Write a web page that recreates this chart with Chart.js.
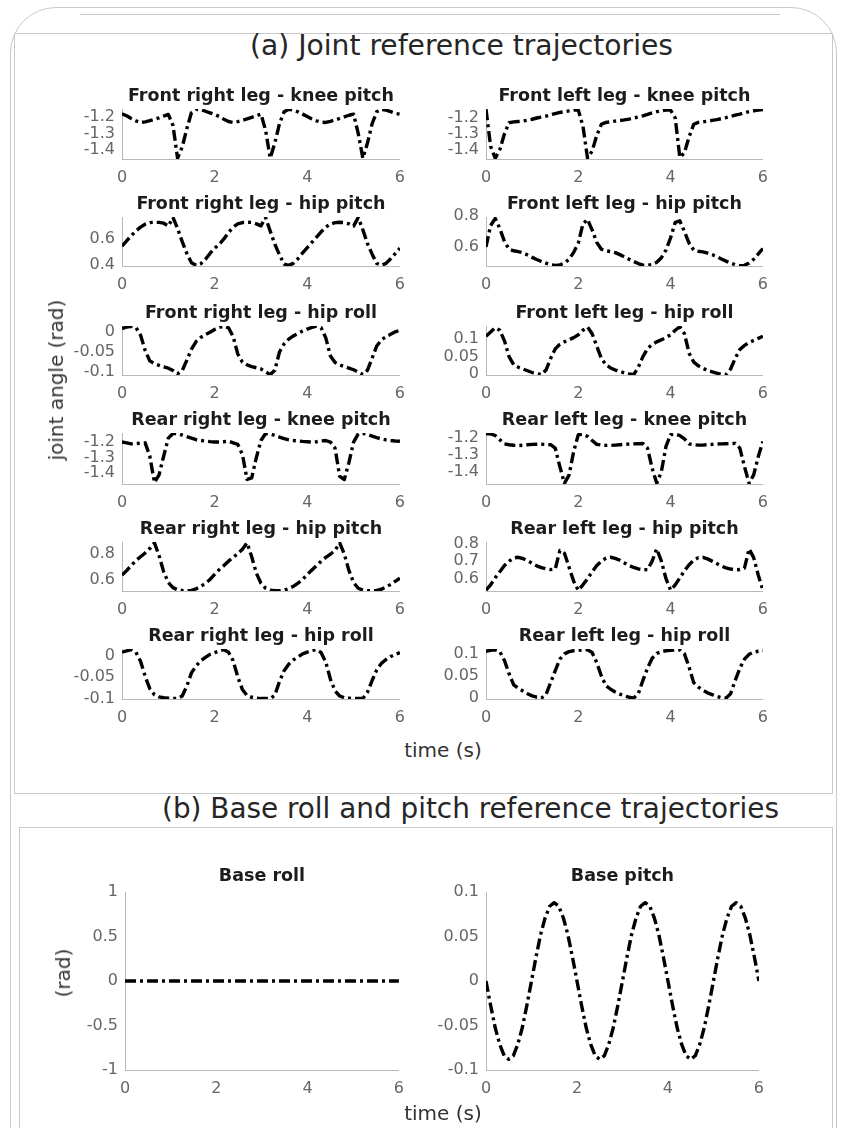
<!DOCTYPE html>
<html>
<head>
<meta charset="utf-8">
<title>Joint and base reference trajectories</title>
<script src="https://cdn.jsdelivr.net/npm/chart.js@4.4.0/dist/chart.umd.min.js"></script>
<style>
    html, body { margin: 0; padding: 0; background: #fff; }
    body { width: 844px; height: 1128px; position: relative; overflow: hidden; font-family: 'DejaVu Sans', sans-serif; }
    .box { position: absolute; border: 1px solid #c9c9c9; box-sizing: border-box; }
    .plot { position: absolute; }
    .lbl { position: absolute; white-space: nowrap; color: #333; font-size: 20px; transform: translate(-50%, -50%); z-index: 2; }
    .rot { transform: translate(-50%, -50%) rotate(-90deg); }
    .head { position: absolute; white-space: nowrap; color: #262626; font-family: 'Liberation Sans Narrow', 'DejaVu Sans Condensed', sans-serif; font-size: 28px; transform-origin: 0 50%; }
</style>
</head>
<body>

<!-- frames around the two panels -->
<div class="box" style="left:10px; top:7px; width:827px; height:1180px; border-radius:46px;"></div>
<div class="box" style="left:80px; top:14px; width:700px; height:1px; border-width:1px 0 0 0;"></div>
<div class="box" style="left:14px; top:33px; width:819px; height:761px;"></div>
<div class="box" style="left:19px; top:827px; width:814px; height:400px;"></div>

<div class="head" data-cx="461" data-cy="45" data-w="423">(a) Joint reference trajectories</div>
<div class="head" data-cx="470" data-cy="808" data-w="617">(b) Base roll and pitch reference trajectories</div>

<div class="lbl rot" style="left:56px; top:380px;">joint angle (rad)</div>
<div class="lbl" style="left:443px; top:750px;">time (s)</div>
<div class="lbl rot" style="left:63px; top:973px;">(rad)</div>
<div class="lbl" style="left:443px; top:1113px;">time (s)</div>

<script>
// ============================================
// 資料：時間軸 (s) 與各關節軌跡 (rad)
// ============================================
const time = [
    0, 0.1, 0.2, 0.3, 0.4, 0.5, 0.6, 0.7, 0.8, 0.9,
    1, 1.1, 1.2, 1.3, 1.4, 1.5, 1.6, 1.7, 1.8, 1.9,
    2, 2.1, 2.2, 2.3, 2.4, 2.5, 2.6, 2.7, 2.8, 2.9,
    3, 3.1, 3.2, 3.3, 3.4, 3.5, 3.6, 3.7, 3.8, 3.9,
    4, 4.1, 4.2, 4.3, 4.4, 4.5, 4.6, 4.7, 4.8, 4.9,
    5, 5.1, 5.2, 5.3, 5.4, 5.5, 5.6, 5.7, 5.8, 5.9,
    6
];
const timeTicks = [0, 2, 4, 6];

const frKneePitch = [
    -1.178, -1.19, -1.207, -1.222, -1.232, -1.228, -1.221, -1.212, -1.203, -1.192,
    -1.182, -1.25, -1.455, -1.385, -1.27, -1.17, -1.15, -1.153, -1.162, -1.172,
    -1.182, -1.195, -1.212, -1.226, -1.232, -1.227, -1.219, -1.21, -1.2, -1.19,
    -1.18, -1.28, -1.455, -1.36, -1.24, -1.165, -1.15, -1.155, -1.166, -1.18,
    -1.195, -1.21, -1.222, -1.23, -1.232, -1.225, -1.216, -1.207, -1.197, -1.187,
    -1.18, -1.3, -1.455, -1.36, -1.24, -1.165, -1.15, -1.155, -1.165, -1.175,
    -1.18
];
const flKneePitch = [
    -1.145, -1.38, -1.455, -1.4, -1.3, -1.23, -1.225, -1.222, -1.219, -1.214,
    -1.208, -1.2, -1.194, -1.188, -1.18, -1.172, -1.165, -1.16, -1.155, -1.15,
    -1.15, -1.25, -1.455, -1.41, -1.31, -1.24, -1.228, -1.224, -1.22, -1.216,
    -1.212, -1.207, -1.2, -1.194, -1.186, -1.177, -1.168, -1.16, -1.155, -1.15,
    -1.15, -1.2, -1.45, -1.42, -1.32, -1.24, -1.228, -1.225, -1.22, -1.215,
    -1.21, -1.204, -1.198, -1.19, -1.182, -1.175, -1.167, -1.16, -1.155, -1.15,
    -1.147
];
const frHipPitch = [
    0.545, 0.585, 0.625, 0.66, 0.69, 0.712, 0.724, 0.727, 0.726, 0.72,
    0.698, 0.765, 0.68, 0.58, 0.49, 0.42, 0.4, 0.412, 0.445, 0.49,
    0.53, 0.56, 0.6, 0.65, 0.69, 0.715, 0.725, 0.727, 0.726, 0.715,
    0.7, 0.763, 0.66, 0.56, 0.48, 0.41, 0.4, 0.415, 0.45, 0.495,
    0.535, 0.575, 0.615, 0.655, 0.69, 0.713, 0.724, 0.727, 0.725, 0.715,
    0.698, 0.764, 0.67, 0.565, 0.485, 0.415, 0.4, 0.415, 0.45, 0.49,
    0.53
];
const flHipPitch = [
    0.6, 0.74, 0.785, 0.72, 0.635, 0.585, 0.575, 0.57, 0.562, 0.548,
    0.532, 0.518, 0.505, 0.494, 0.484, 0.48, 0.483, 0.495, 0.52, 0.565,
    0.625, 0.75, 0.78, 0.71, 0.63, 0.585, 0.575, 0.57, 0.563, 0.55,
    0.535, 0.52, 0.505, 0.492, 0.482, 0.48, 0.485, 0.5, 0.53, 0.58,
    0.66, 0.76, 0.77, 0.7, 0.625, 0.58, 0.572, 0.568, 0.56, 0.55,
    0.538, 0.522, 0.508, 0.495, 0.485, 0.478, 0.48, 0.495, 0.52, 0.555,
    0.59
];
const frHipRoll = [
    0.008, 0.012, 0.014, 0.011, -0.008, -0.046, -0.072, -0.079, -0.083, -0.087,
    -0.09, -0.096, -0.104, -0.096, -0.07, -0.043, -0.024, -0.014, -0.007, -0.001,
    0.006, 0.011, 0.014, 0.01, -0.012, -0.055, -0.075, -0.082, -0.086, -0.089,
    -0.092, -0.099, -0.106, -0.095, -0.05, -0.03, -0.018, -0.01, -0.004, 0.002,
    0.007, 0.011, 0.014, 0.01, -0.015, -0.06, -0.076, -0.082, -0.086, -0.09,
    -0.094, -0.1, -0.106, -0.095, -0.065, -0.035, -0.02, -0.012, -0.006, 0,
    0.004
];
const flHipRoll = [
    0.108, 0.12, 0.132, 0.125, 0.095, 0.05, 0.027, 0.02, 0.015, 0.01,
    0.005, 0.002, -0.001, 0.012, 0.045, 0.072, 0.085, 0.092, 0.098, 0.104,
    0.112, 0.125, 0.134, 0.115, 0.08, 0.045, 0.027, 0.018, 0.012, 0.008,
    0.004, 0.001, -0.001, 0.02, 0.05, 0.073, 0.085, 0.092, 0.098, 0.104,
    0.112, 0.125, 0.135, 0.115, 0.06, 0.035, 0.024, 0.017, 0.011, 0.007,
    0.003, 0, -0.001, 0.015, 0.045, 0.07, 0.082, 0.09, 0.096, 0.102,
    0.108
];
const rrKneePitch = [
    -1.2, -1.205, -1.212, -1.21, -1.207, -1.205, -1.29, -1.46, -1.41, -1.29,
    -1.175, -1.145, -1.146, -1.155, -1.165, -1.175, -1.185, -1.19, -1.193, -1.197,
    -1.2, -1.2, -1.198, -1.195, -1.205, -1.215, -1.28, -1.44, -1.43, -1.3,
    -1.19, -1.145, -1.148, -1.158, -1.168, -1.178, -1.186, -1.19, -1.193, -1.196,
    -1.198, -1.2, -1.198, -1.193, -1.19, -1.2, -1.24, -1.42, -1.44, -1.33,
    -1.2, -1.148, -1.145, -1.152, -1.162, -1.172, -1.18, -1.186, -1.19, -1.193,
    -1.195
];
const rlKneePitch = [
    -1.175, -1.175, -1.185, -1.21, -1.235, -1.24, -1.243, -1.245, -1.243, -1.24,
    -1.238, -1.237, -1.237, -1.238, -1.24, -1.26, -1.37, -1.47, -1.42, -1.28,
    -1.18, -1.177, -1.19, -1.215, -1.238, -1.242, -1.244, -1.244, -1.242, -1.24,
    -1.238, -1.236, -1.235, -1.234, -1.233, -1.26, -1.38, -1.47, -1.4, -1.25,
    -1.18, -1.176, -1.185, -1.205, -1.235, -1.24, -1.242, -1.242, -1.24, -1.238,
    -1.236, -1.235, -1.234, -1.233, -1.232, -1.26, -1.37, -1.47, -1.42, -1.31,
    -1.22
];
const rrHipPitch = [
    0.634, 0.67, 0.71, 0.75, 0.78, 0.81, 0.845, 0.89, 0.79, 0.66,
    0.575, 0.535, 0.518, 0.512, 0.51, 0.513, 0.525, 0.545, 0.568, 0.6,
    0.64, 0.678, 0.71, 0.745, 0.775, 0.805, 0.84, 0.89, 0.78, 0.65,
    0.57, 0.53, 0.515, 0.51, 0.51, 0.515, 0.527, 0.545, 0.57, 0.6,
    0.638, 0.675, 0.71, 0.745, 0.775, 0.8, 0.83, 0.89, 0.8, 0.67,
    0.575, 0.53, 0.515, 0.51, 0.51, 0.513, 0.522, 0.54, 0.56, 0.585,
    0.61
];
const rlHipPitch = [
    0.535, 0.565, 0.605, 0.64, 0.675, 0.7, 0.718, 0.722, 0.715, 0.703,
    0.688, 0.673, 0.663, 0.656, 0.652, 0.655, 0.76, 0.745, 0.665, 0.585,
    0.533, 0.565, 0.6, 0.64, 0.675, 0.7, 0.717, 0.722, 0.716, 0.705,
    0.69, 0.675, 0.664, 0.656, 0.651, 0.652, 0.7, 0.77, 0.7, 0.6,
    0.535, 0.565, 0.605, 0.645, 0.68, 0.705, 0.72, 0.722, 0.713, 0.7,
    0.686, 0.672, 0.662, 0.655, 0.651, 0.652, 0.66, 0.77, 0.72, 0.62,
    0.535
];
const rrHipRoll = [
    0.008, 0.011, 0.014, 0.008, -0.013, -0.048, -0.077, -0.091, -0.096, -0.098,
    -0.099, -0.1, -0.1, -0.094, -0.071, -0.04, -0.024, -0.012, -0.004, 0.003,
    0.007, 0.011, 0.014, 0.008, -0.012, -0.05, -0.079, -0.093, -0.097, -0.099,
    -0.1, -0.1, -0.1, -0.092, -0.06, -0.035, -0.02, -0.01, -0.003, 0.004,
    0.008, 0.012, 0.014, 0.007, -0.015, -0.055, -0.082, -0.094, -0.098, -0.099,
    -0.1, -0.1, -0.1, -0.085, -0.058, -0.033, -0.018, -0.009, -0.002, 0.003,
    0.007
];
const rlHipRoll = [
    0.106, 0.108, 0.109, 0.105, 0.085, 0.055, 0.03, 0.022, 0.016, 0.01,
    0.005, 0.002, 0, 0.008, 0.035, 0.062, 0.088, 0.1, 0.105, 0.107,
    0.108, 0.109, 0.109, 0.103, 0.08, 0.05, 0.028, 0.02, 0.014, 0.009,
    0.005, 0.002, 0, 0.01, 0.04, 0.068, 0.09, 0.101, 0.105, 0.107,
    0.108, 0.109, 0.109, 0.1, 0.07, 0.035, 0.025, 0.018, 0.012, 0.008,
    0.004, 0.001, 0, 0.01, 0.04, 0.067, 0.088, 0.099, 0.104, 0.106,
    0.107
];
const baseRoll = [
    0, 0, 0, 0, 0, 0, 0, 0, 0, 0,
    0, 0, 0, 0, 0, 0, 0, 0, 0, 0,
    0, 0, 0, 0, 0, 0, 0, 0, 0, 0,
    0, 0, 0, 0, 0, 0, 0, 0, 0, 0,
    0, 0, 0, 0, 0, 0, 0, 0, 0, 0,
    0, 0, 0, 0, 0, 0, 0, 0, 0, 0,
    0
];
const basePitch = [
    0, -0.027, -0.052, -0.071, -0.084, -0.088, -0.084, -0.071, -0.052, -0.027,
    0, 0.027, 0.052, 0.071, 0.084, 0.088, 0.084, 0.071, 0.052, 0.027,
    0, -0.027, -0.052, -0.071, -0.084, -0.088, -0.084, -0.071, -0.052, -0.027,
    0, 0.027, 0.052, 0.071, 0.084, 0.088, 0.084, 0.071, 0.052, 0.027,
    0, -0.027, -0.052, -0.071, -0.084, -0.088, -0.084, -0.071, -0.052, -0.027,
    0, 0.027, 0.052, 0.071, 0.084, 0.088, 0.084, 0.071, 0.052, 0.027,
    0
];

// 各子圖 y 軸刻度
const kneeTicks = [-1.4, -1.3, -1.2];
const frHipPitchTicks = [0.4, 0.6];
const flHipPitchTicks = [0.6, 0.8];
const rrHipPitchTicks = [0.6, 0.8];
const rlHipPitchTicks = [0.6, 0.7, 0.8];
const rightRollTicks = [-0.1, -0.05, 0];
const leftRollTicks = [0, 0.05, 0.1];
const baseRollTicks = [-1, -0.5, 0, 0.5, 1];
const basePitchTicks = [-0.1, -0.05, 0, 0.05, 0.1];

// ============================================
// 版面：每個子圖的繪圖區位置
// ============================================
const LEFT_COL = { left: 122, w: 278 };
const RIGHT_COL = { left: 486, w: 277 };
const ROWS = [[109, 50], [217, 49], [326, 49], [433, 51], [542, 49], [649, 50]];

const panels = [
    { title: 'Front right leg - knee pitch', values: frKneePitch, ticks: kneeTicks, min: -1.46, max: -1.148, col: LEFT_COL, row: 0 },
    { title: 'Front left leg - knee pitch', values: flKneePitch, ticks: kneeTicks, min: -1.46, max: -1.143, col: RIGHT_COL, row: 0 },
    { title: 'Front right leg - hip pitch', values: frHipPitch, ticks: frHipPitchTicks, min: 0.395, max: 0.767, col: LEFT_COL, row: 1 },
    { title: 'Front left leg - hip pitch', values: flHipPitch, ticks: flHipPitchTicks, min: 0.476, max: 0.795, col: RIGHT_COL, row: 1 },
    { title: 'Front right leg - hip roll', values: frHipRoll, ticks: rightRollTicks, min: -0.107, max: 0.0145, col: LEFT_COL, row: 2 },
    { title: 'Front left leg - hip roll', values: flHipRoll, ticks: leftRollTicks, min: -0.002, max: 0.137, col: RIGHT_COL, row: 2 },
    { title: 'Rear right leg - knee pitch', values: rrKneePitch, ticks: kneeTicks, min: -1.469, max: -1.142, col: LEFT_COL, row: 3 },
    { title: 'Rear left leg - knee pitch', values: rlKneePitch, ticks: kneeTicks, min: -1.474, max: -1.17, col: RIGHT_COL, row: 3 },
    { title: 'Rear right leg - hip pitch', values: rrHipPitch, ticks: rrHipPitchTicks, min: 0.508, max: 0.897, col: LEFT_COL, row: 4 },
    { title: 'Rear left leg - hip pitch', values: rlHipPitch, ticks: rlHipPitchTicks, min: 0.53, max: 0.809, col: RIGHT_COL, row: 4 },
    { title: 'Rear right leg - hip roll', values: rrHipRoll, ticks: rightRollTicks, min: -0.101, max: 0.0155, col: LEFT_COL, row: 5 },
    { title: 'Rear left leg - hip roll', values: rlHipRoll, ticks: leftRollTicks, min: -0.002, max: 0.111, col: RIGHT_COL, row: 5 }
];

const Y_AXIS_W = 64;   // y 軸刻度區寬度
const PAD_TOP = 30;    // 子圖標題空間
const PAD_RIGHT = 14;
const X_AXIS_H = 32;

// 子圖標題（置中於繪圖區上方）
const subTitlePlugin = {
    id: 'subTitle',
    afterDraw(chart, args, opts) {
        const { ctx, chartArea } = chart;
        ctx.save();
        ctx.font = 'bold 17.5px "DejaVu Sans", sans-serif';
        ctx.fillStyle = '#1c1c1c';
        ctx.textAlign = 'center';
        ctx.textBaseline = 'middle';
        ctx.fillText(opts.text, (chartArea.left + chartArea.right) / 2, chartArea.top - opts.gap);
        ctx.restore();
    }
};

function fmt(v) {
    return String(Math.round(v * 1000) / 1000);
}

function makePlot(p) {
    const wrap = document.createElement('div');
    wrap.className = 'plot';
    wrap.style.left = (p.left - Y_AXIS_W) + 'px';
    wrap.style.top = (p.top - PAD_TOP) + 'px';
    const canvas = document.createElement('canvas');
    canvas.width = Y_AXIS_W + p.w + PAD_RIGHT;
    canvas.height = PAD_TOP + p.h + X_AXIS_H;
    wrap.appendChild(canvas);
    document.body.appendChild(wrap);

    const tickFont = { family: "'DejaVu Sans', sans-serif", size: 16 };

    return new Chart(canvas, {
        type: 'line',
        data: {
            datasets: [{
                data: time.map((t, i) => ({ x: t, y: p.values[i] })),
                borderColor: '#000',
                borderWidth: 3.4,
                borderDash: [11, 4, 3, 4],   // 點劃線
                borderCapStyle: 'butt',
                borderJoinStyle: 'round',
                pointRadius: 0,
                tension: 0,
                fill: false
            }]
        },
        options: {
            responsive: false,
            animation: false,
            devicePixelRatio: 1,
            layout: { padding: { top: PAD_TOP, right: PAD_RIGHT, left: 0, bottom: 0 } },
            plugins: {
                legend: { display: false },
                tooltip: { enabled: false },
                subTitle: { text: p.title, gap: p.gap }
            },
            scales: {
                x: {
                    type: 'linear',
                    min: 0,
                    max: 6,
                    afterBuildTicks: s => { s.ticks = timeTicks.map(v => ({ value: v })); },
                    afterFit: s => { s.height = X_AXIS_H; },
                    grid: { display: false, drawTicks: false },
                    border: { color: '#b8b8b8', width: 1 },
                    ticks: { padding: 9, color: '#666', font: tickFont, maxRotation: 0, autoSkip: false }
                },
                y: {
                    type: 'linear',
                    min: p.min,
                    max: p.max,
                    afterBuildTicks: s => { s.ticks = p.ticks.map(v => ({ value: v })); },
                    afterFit: s => { s.width = Y_AXIS_W; },
                    grid: { display: false, drawTicks: false },
                    border: { color: '#b8b8b8', width: 1 },
                    ticks: { padding: 7, color: '#666', font: tickFont, callback: v => fmt(v) }
                }
            }
        },
        plugins: [subTitlePlugin]
    });
}

function fitHeading(el) {
    const target = +el.dataset.w;
    const r = el.getBoundingClientRect();
    el.style.left = (+el.dataset.cx - target / 2) + 'px';
    el.style.top = (+el.dataset.cy - r.height / 2) + 'px';
    el.style.transform = 'scaleX(' + (target / r.width) + ')';
}

document.addEventListener('DOMContentLoaded', function () {
    panels.forEach(function (p) {
        const [top, h] = ROWS[p.row];
        makePlot({ title: p.title, values: p.values, ticks: p.ticks, min: p.min, max: p.max,
                   left: p.col.left, w: p.col.w, top: top, h: h, gap: 13 });
    });

    // (b) 基座 roll / pitch
    makePlot({ title: 'Base roll', values: baseRoll, ticks: baseRollTicks, min: -1, max: 1,
               left: 125, w: 274, top: 892, h: 178, gap: 16 });
    makePlot({ title: 'Base pitch', values: basePitch, ticks: basePitchTicks, min: -0.1, max: 0.1,
               left: 486, w: 273, top: 892, h: 178, gap: 16 });

    document.querySelectorAll('.head').forEach(fitHeading);
});
</script>
</body>
</html>
